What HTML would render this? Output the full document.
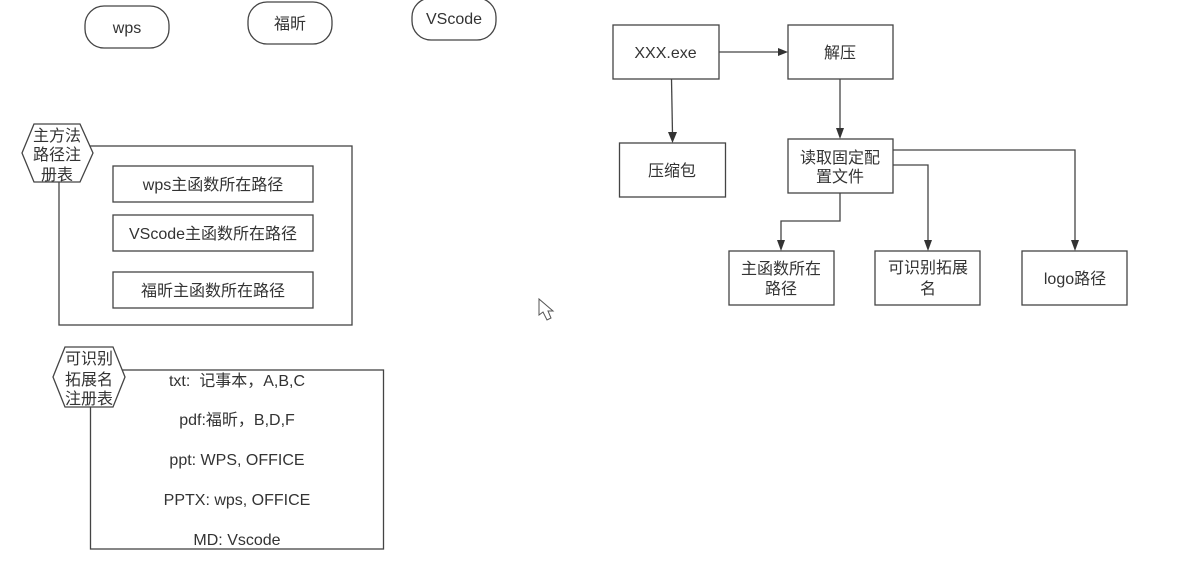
<!DOCTYPE html>
<html lang="zh">
<head>
<meta charset="utf-8">
<style>
html,body{margin:0;padding:0;background:#fff;width:1179px;height:574px;overflow:hidden}
svg{display:block;filter:blur(0.35px)}
text{font-family:"Liberation Sans","Noto Sans CJK SC",sans-serif;font-size:16px;fill:#333;text-anchor:middle}
.s{fill:#fff;stroke:#444;stroke-width:1.3}
.l{fill:none;stroke:#444;stroke-width:1.3}
.a{fill:#333;stroke:none}
</style>
</head>
<body>
<svg width="1179" height="574" viewBox="0 0 1179 574" xmlns="http://www.w3.org/2000/svg">
<rect class="s" x="85" y="6" width="84" height="42" rx="19"/>
<text x="127" y="33">wps</text>
<rect class="s" x="248" y="2" width="84" height="42" rx="19"/>
<text x="290" y="29">福昕</text>
<rect class="s" x="412" y="-2" width="84" height="42" rx="19"/>
<text x="454" y="24">VScode</text>

<rect class="s" x="59" y="146" width="293" height="179"/>
<polygon class="s" points="34,124 80,124 93,153 80,182 34,182 22,153"/>
<text x="57" y="141">主方法</text>
<text x="57" y="160">路径注</text>
<text x="57" y="180">册表</text>
<rect class="s" x="113" y="166" width="200" height="36"/>
<text x="213" y="190">wps主函数所在路径</text>
<rect class="s" x="113" y="215" width="200" height="36"/>
<text x="213" y="239">VScode主函数所在路径</text>
<rect class="s" x="113" y="272" width="200" height="36"/>
<text x="213" y="296">福昕主函数所在路径</text>

<rect class="s" x="90.500" y="370" width="293" height="179"/>
<polygon class="s" points="65,347 113,347 125,377 113,407 65,407 53,377"/>
<text x="89" y="364">可识别</text>
<text x="89" y="385">拓展名</text>
<text x="89" y="404">注册表</text>
<text x="237" y="386">txt:&#160;&#160;记事本，A,B,C</text>
<text x="237" y="425">pdf:福昕，B,D,F</text>
<text x="237" y="465">ppt: WPS, OFFICE</text>
<text x="237" y="505">PPTX:&#160;wps, OFFICE</text>
<text x="237" y="545">MD: Vscode</text>

<polyline class="l" points="719,52 780,52"/>
<polygon class="a" points="788,52 778,48 778,56"/>
<polyline class="l" points="671.500,79 672.500,134"/>
<polygon class="a" points="672.500,143 668,132 677,132"/>
<polyline class="l" points="840,79 840,130"/>
<polygon class="a" points="840,139 836,128 844,128"/>
<polyline class="l" points="840,193 840,221 781,221 781,242"/>
<polygon class="a" points="781,251 777,240 785,240"/>
<polyline class="l" points="893,165 928,165 928,242"/>
<polygon class="a" points="928,251 924,240 932,240"/>
<polyline class="l" points="893,150 1075,150 1075,242"/>
<polygon class="a" points="1075,251 1071,240 1079,240"/>

<rect class="s" x="613" y="25" width="106" height="54"/>
<text x="665.500" y="58">XXX.exe</text>
<rect class="s" x="788" y="25" width="105" height="54"/>
<text x="840" y="58">解压</text>
<rect class="s" x="619.500" y="143" width="106" height="54"/>
<text x="672" y="176">压缩包</text>
<rect class="s" x="788" y="139" width="105" height="54"/>
<text x="840" y="163">读取固定配</text>
<text x="840" y="182">置文件</text>
<rect class="s" x="729" y="251" width="105" height="54"/>
<text x="781" y="274">主函数所在</text>
<text x="781" y="294">路径</text>
<rect class="s" x="875" y="251" width="105" height="54"/>
<text x="928" y="273">可识别拓展</text>
<text x="928" y="294">名</text>
<rect class="s" x="1022" y="251" width="105" height="54"/>
<text x="1075" y="284">logo路径</text>

<polygon points="539,299 539,315 543,312 547,320 551,318 548,311 553,311" fill="#fff" stroke="#555" stroke-width="1"/>
</svg>
</body>
</html>
